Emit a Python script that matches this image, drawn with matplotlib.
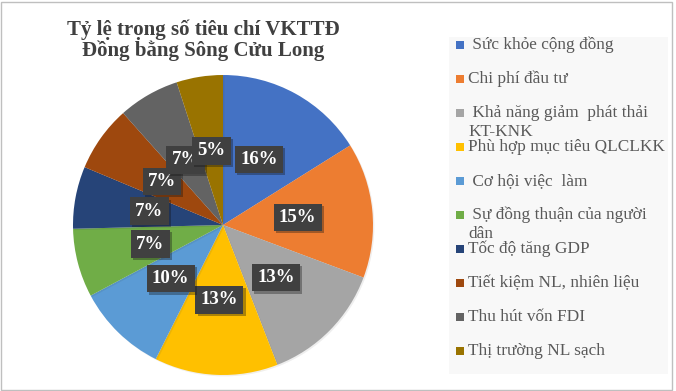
import numpy as np
import matplotlib.pyplot as plt
import matplotlib.patches as mpatches
import matplotlib.patheffects as pe

W, H = 676, 391

labels = [' Sức khỏe cộng đồng', 'Chi phí đầu tư', ' Khả năng giảm  phát thải\nKT-KNK',
          'Phù hợp mục tiêu QLCLKK', ' Cơ hội việc  làm', ' Sự đồng thuận của người\ndân',
          'Tốc độ tăng GDP', 'Tiết kiệm NL, nhiên liệu', 'Thu hút vốn FDI', 'Thị trường NL sạch']
values = [16.1, 14.6, 13.4, 13.3, 9.8, 7.4, 6.7, 7.1, 6.6, 5.0]
pct_labels = ['16%', '15%', '13%', '13%', '10%', '7%', '7%', '7%', '7%', '5%']
colors = ['#4472C4', '#ED7D31', '#A5A5A5', '#FFC000', '#5B9BD5',
          '#70AD47', '#264478', '#9E480E', '#636363', '#997300']

plt.rcParams['font.family'] = ['Liberation Serif', 'DejaVu Serif']

fig = plt.figure(figsize=(W / 100, H / 100), dpi=100)
fig.patch.set_facecolor('white')

# chart border
fig.add_artist(mpatches.Rectangle((0.5 / W, 1.5 / H), (W - 5) / W, (H - 3) / H,
                                  transform=fig.transFigure, fill=False,
                                  edgecolor='#BFBFBF', linewidth=1))

# pie
cx, cy, r = 223, 225, 150
ax = fig.add_axes([(cx - r) / W, (H - cy - r) / H, 2 * r / W, 2 * r / H])
wedges, texts = ax.pie(values, colors=colors, startangle=90, counterclock=False,
                       radius=1, wedgeprops=dict(linewidth=0))
for w in wedges:
    w.set_path_effects([pe.SimplePatchShadow(offset=(1, -1), alpha=0.08), pe.Normal()])
ax.set_xlim(-1, 1)
ax.set_ylim(-1, 1)
ax.set_aspect('equal')
ax.axis('off')

for w, lab in zip(wedges, pct_labels):
    ang = np.deg2rad((w.theta1 + w.theta2) / 2)
    x, y = 0.5 * np.cos(ang), 0.5 * np.sin(ang)
    ax.text(x, y, lab, ha='center', va='center', color='white', fontsize=13.5,
            fontweight='bold',
            bbox=dict(boxstyle='square,pad=0.28', facecolor='#404040', edgecolor='none',
                      path_effects=[pe.SimplePatchShadow(offset=(1.5, -1.5), alpha=0.35), pe.Normal()]))

# title
fig.text(203 / W, 1 - 40 / H, 'Tỷ lệ trọng số tiêu chí VKTTĐ\nĐồng bằng Sông Cửu Long',
         ha='center', va='center', fontsize=15, fontweight='bold', color='#404040',
         linespacing=1.05)

# legend
fig.add_artist(mpatches.Rectangle((449 / W, 1 - 374 / H), 219 / W, 337 / H,
                                  transform=fig.transFigure, facecolor='#F8F8F8',
                                  edgecolor='none'))
for i, (lab, col) in enumerate(zip(labels, colors)):
    ym = 45 + 34 * i
    fig.add_artist(mpatches.Rectangle((456 / W, 1 - (ym + 4) / H), 8 / W, 8 / H,
                                      transform=fig.transFigure, facecolor=col,
                                      edgecolor='none'))
    fig.text(468 / W, 1 - ym / H, lab.split('\n')[0], ha='left', va='center',
             fontsize=12.4, color='#595959')
    if '\n' in lab:
        fig.text(468 / W, 1 - (ym + 19) / H, lab.split('\n')[1], ha='left', va='center',
                 fontsize=12.4, color='#595959')

fig.savefig('out.png', dpi=100)
